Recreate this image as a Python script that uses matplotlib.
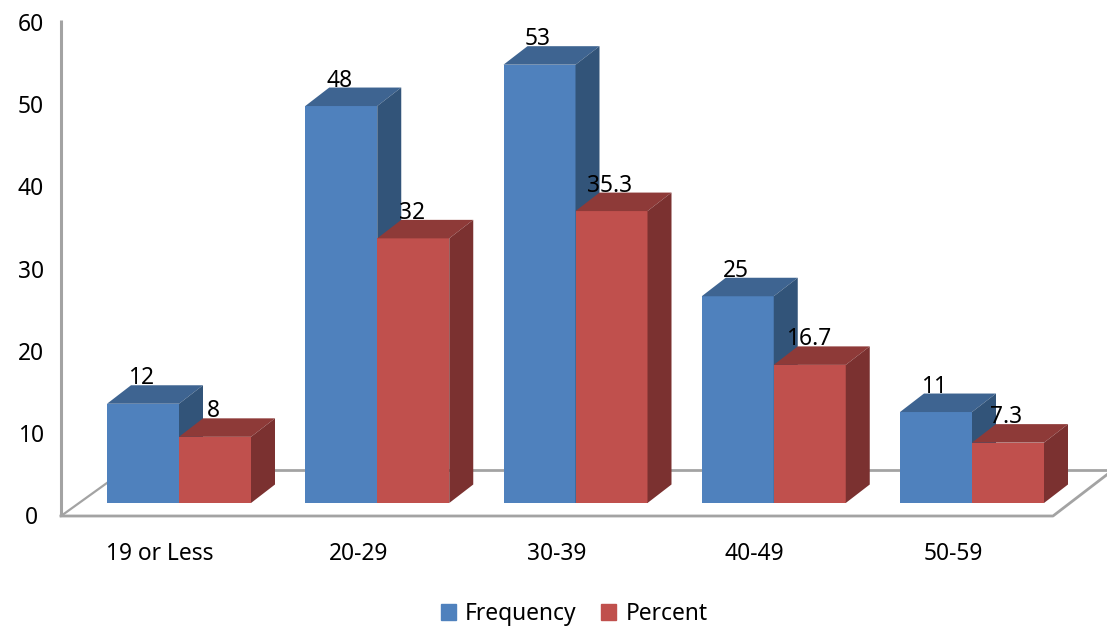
import matplotlib.pyplot as plt
import numpy as np

# Age groups and their counts
categories = ["19 or Less", "20-29", "30-39", "40-49", "50-59"]
frequency = [12, 48, 53, 25, 11]
percent = [8, 32, 35.3, 16.7, 7.3]
y_ticks = [0, 10, 20, 30, 40, 50, 60]

plt.rcParams["font.family"] = ["Noto Sans", "DejaVu Sans"]

fig = plt.figure(figsize=(11.07, 6.28), dpi=100)
ax = fig.add_axes([0, 0, 1, 1])

# x is in category units (198.25 px each), y in value units (8.27 px each)
ax.set_xlim(-179 / 198.25, (1107 - 179) / 198.25)
ax.set_ylim(-125 / 8.27, 503 / 8.27)
ax.axis("off")

bar_w = 72 / 198.25
depth_x = 24 / 198.25
depth_y = 18.5 / 8.27
floor_y = -13 / 8.27
wall_x = -118 / 198.25
grey = "#a3a3a3"
font_size = 16.4


def bar3d(x, value, front, top, side):
    ax.bar(x, value, bar_w, color=front, linewidth=0, zorder=3)
    left, right = x - bar_w / 2, x + bar_w / 2
    ax.fill([left, right, right + depth_x, left + depth_x],
            [value, value, value + depth_y, value + depth_y], color=top, lw=0, zorder=3)
    ax.fill([right, right + depth_x, right + depth_x, right],
            [0, depth_y, value + depth_y, value], color=side, lw=0, zorder=3)


# floor and back edge, then the value wall
floor_right = 874 / 198.25
back_y = floor_y + 46 / 8.27
ax.plot([wall_x, wall_x + 64 / 198.25], [floor_y, back_y], color=grey, lw=1.6, zorder=1)
ax.plot([wall_x + 64 / 198.25, 940 / 198.25], [back_y, back_y], color=grey, lw=2.0, zorder=1)
ax.plot([wall_x, floor_right, floor_right + 60 / 198.25], [floor_y, floor_y, back_y],
        color=grey, lw=2.0, zorder=1)
ax.plot([wall_x, wall_x], [floor_y, floor_y + 60], color=grey, lw=2.2, zorder=1,
        solid_capstyle="butt")

label_dy = 25.5 / 8.27
label_dx = -1.5 / 198.25
for i in range(len(categories)):
    left_x = i - bar_w / 2
    right_x = i + bar_w / 2
    bar3d(left_x, frequency[i], "#4f81bd", "#3e6491", "#325479")
    bar3d(right_x, percent[i], "#c0504d", "#8e3a38", "#7b3130")
    ax.text(left_x + label_dx, frequency[i] + label_dy, str(frequency[i]), ha="center", va="center",
            fontsize=font_size, color="black", zorder=5)
    ax.text(right_x + label_dx, percent[i] + label_dy, str(percent[i]), ha="center", va="center",
            fontsize=font_size, color="black", zorder=5)
    ax.text(i - 19 / 198.25, -50.5 / 8.27, categories[i], ha="center", va="center", fontsize=font_size)

for t in y_ticks:
    ax.text(wall_x - 30 / 198.25, floor_y + t * 0.995 - 0.3, str(t), ha="center", va="center",
            fontsize=font_size)

handles = [plt.Rectangle((0, 0), 1, 1, color="#4f81bd"), plt.Rectangle((0, 0), 1, 1, color="#c0504d")]
ax.legend(handles, ["Frequency", "Percent"], loc="center", bbox_to_anchor=(574 / 1107, 1 - 614 / 628),
          ncol=2, frameon=False, fontsize=font_size, handlelength=0.68, handleheight=0.68,
          handletextpad=0.4, columnspacing=1.05)

fig.savefig("out.png", dpi=100)
